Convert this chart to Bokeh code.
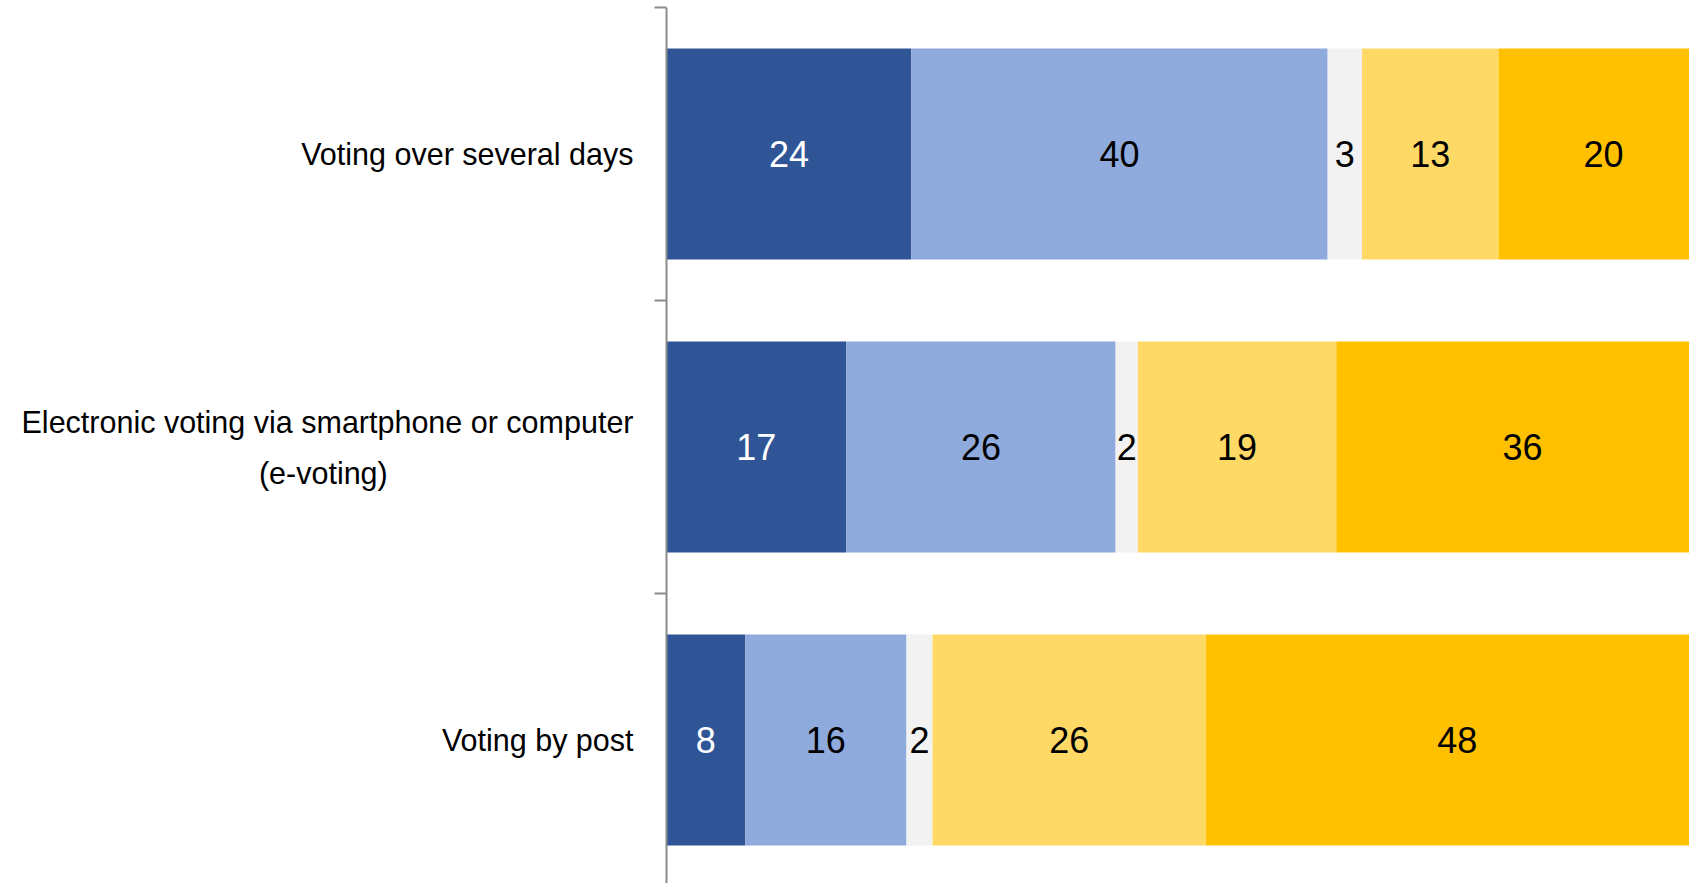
from bokeh.plotting import figure
from bokeh.models import ColumnDataSource, FixedTicker, Range1d
from bokeh.core.properties import value
from bokeh.embed import file_html
from bokeh.resources import INLINE

# Data (top to bottom)
categories = ["Voting over several days",
              "Electronic voting via smartphone or computer\n(e-voting)",
              "Voting by post"]
strongly_for = [23.5, 17.25, 7.55]
rather_for = [39.95, 25.85, 15.48]
dont_know = [3.3, 2.14, 2.5]
rather_against = [13.1, 19.04, 26.25]
strongly_against = [20.15, 35.72, 48.22]
# Printed labels
labels_strongly_for = ["24", "17", "8"]
labels_rather_for = ["40", "26", "16"]
labels_dont_know = ["3", "2", "2"]
labels_rather_against = ["13", "19", "26"]
labels_strongly_against = ["20", "36", "48"]

series = [strongly_for, rather_for, dont_know, rather_against, strongly_against]
series_labels = [labels_strongly_for, labels_rather_for, labels_dont_know,
                 labels_rather_against, labels_strongly_against]
colors = ["#2F5597", "#8FAADC", "#F2F2F2", "#FFD966", "#FFC000"]
text_colors = ["white", "black", "black", "black", "black"]

FONT = "Liberation Sans"

ypos = [0.5, 1.5, 2.5]
PX_PER_X = 10.42


def centred_lines(label):
    # right-aligned tick labels: pad the shorter lines with no-break spaces
    lines = label.split("\n")
    if len(lines) == 1:
        return label
    longest = max(len(l) for l in lines)
    out = [lines[0]]
    for l in lines[1:]:
        pad = int(round((longest - len(l)) * 0.86))
        out.append(l + "\u00a0" * pad)
    return "\n".join(out)


p = figure(width=1689, height=883, output_backend="svg", toolbar_location=None,
           x_range=Range1d(0, (1689 - 666) / PX_PER_X), y_range=Range1d(876 / 293, 0),
           min_border_left=666, min_border_top=7, min_border_right=0, min_border_bottom=0)
p.outline_line_color = None
p.xgrid.visible = False
p.ygrid.visible = False
p.xaxis.visible = False

cum = [0.0, 0.0, 0.0]
for vals, labs, col, tcol in zip(series, series_labels, colors, text_colors):
    left = list(cum)
    right = [c + v for c, v in zip(cum, vals)]
    mid = [(l + r) / 2 for l, r in zip(left, right)]
    src = ColumnDataSource(dict(y=ypos, left=left, right=right, mid=mid, lab=labs))
    p.hbar(y="y", left="left", right="right", height=0.72, source=src,
           fill_color=col, line_color=None)
    p.text(x="mid", y="y", text="lab", source=src, text_align="center",
           text_baseline="middle", text_color=tcol, text_font=value(FONT),
           text_font_size="36px")
    cum = right

ax = p.yaxis[0]
ax.ticker = FixedTicker(ticks=ypos, minor_ticks=[0, 1, 2, 3])
ax.major_label_overrides = {y: centred_lines(c) for y, c in zip(ypos, categories)}
ax.major_tick_out = 0
ax.major_tick_in = 0
ax.minor_tick_out = 12
ax.minor_tick_in = 0
ax.minor_tick_line_color = "#8C8C8C"
ax.minor_tick_line_width = 2
ax.axis_line_color = "#8C8C8C"
ax.axis_line_width = 2
ax.major_label_standoff = 21
ax.major_label_text_font = FONT
ax.major_label_text_font_size = "30.5px"
ax.major_label_text_color = "black"
ax.major_label_text_line_height = 1.5

open("out.html", "w").write(file_html(p, INLINE))
